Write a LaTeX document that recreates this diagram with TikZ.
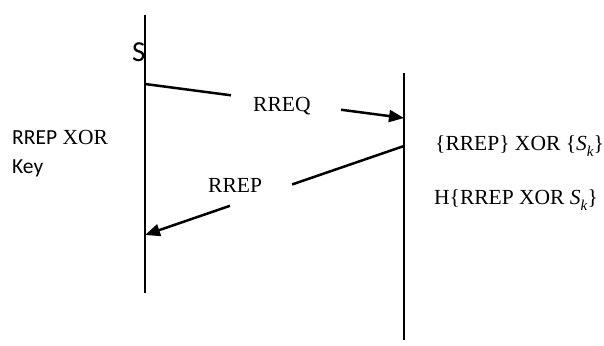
\documentclass[tikz,border=0pt]{standalone}
\usepackage{fontspec}
\setmainfont{Liberation Serif}
\newfontfamily\carlito{Carlito}
\usetikzlibrary{arrows.meta,calc}
\newcommand{\Skey}{\textit{S}\raisebox{-0.28em}{\fontsize{15}{17}\selectfont\textit{k}}}
\begin{document}
\begin{tikzpicture}[x=1pt,y=-1pt,
  lifeline/.style={line width=1.7pt},
  msg/.style={line width=2.5pt},
  msghead/.style={line width=2.5pt,-{Triangle[length=15pt,width=12pt]}},
  lbl/.style={anchor=base west,inner sep=0pt,font=\fontsize{21.5}{25}\selectfont}]
\useasboundingbox (0,0) rectangle (604,345);
% lifelines
\coordinate (sTop) at (145,15);
\coordinate (sBot) at (145,293);
\coordinate (dTop) at (404,73);
\coordinate (dBot) at (404,340);
\draw[lifeline] (sTop) -- (sBot);
\draw[lifeline] (dTop) -- (dBot);
% request from S
\coordinate (reqA) at (145,84);
\coordinate (reqB) at (404,118);
\draw[msg] (reqA) -- ($(reqA)!0.332!(reqB)$);
\draw[msghead] ($(reqA)!0.757!(reqB)$) -- (reqB);
% reply back to S
\coordinate (repA) at (404,146);
\coordinate (repB) at (145,235);
\draw[msg] (repA) -- ($(repA)!0.432!(repB)$);
\draw[msghead] ($(repA)!0.672!(repB)$) -- (repB);
% labels
\node[lbl,font=\carlito\fontsize{29}{32}\selectfont] (S) at (132,62) {S};
\node[lbl] (req) at (253,111) {RREQ};
\node[lbl] (rep) at (208,192) {RREP};
\node[lbl] (lk1) at (12,144) {{\carlito RREP} XOR};
\node[lbl,font=\carlito\fontsize{21.5}{25}\selectfont] (lk2) at (12,173) {Key};
\node[lbl] (r1) at (435,150) {\{RREP\} XOR \{\Skey\}};
\node[lbl] (r2) at (434,204) {H\{RREP XOR \Skey\}};
\end{tikzpicture}
\end{document}
